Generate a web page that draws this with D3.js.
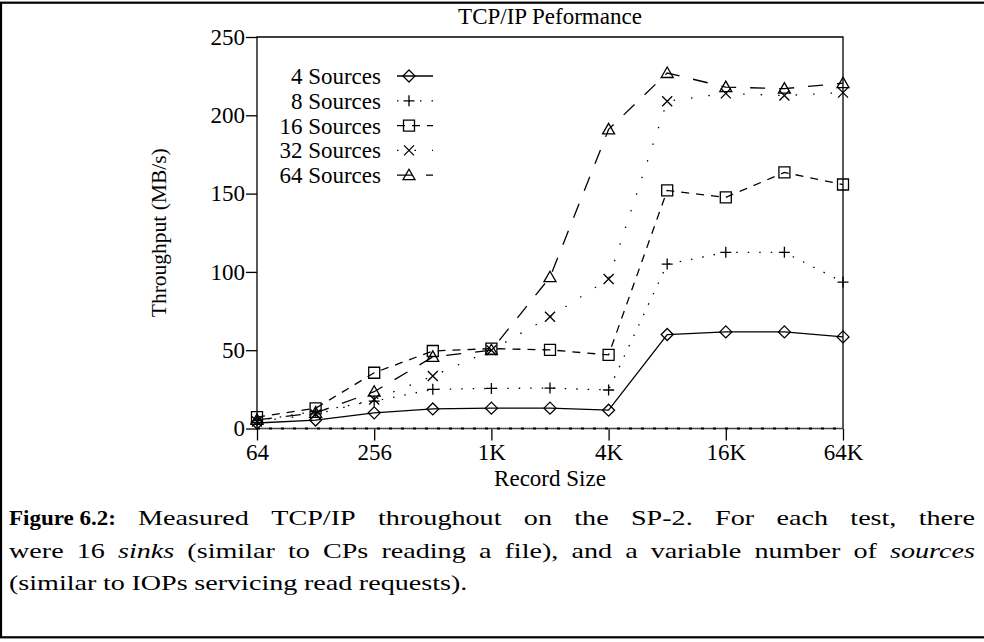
<!DOCTYPE html>
<html>
<head>
<meta charset="utf-8">
<script src="https://cdn.jsdelivr.net/npm/d3@7"></script>
<style>
  body { margin: 0; background: #fff; }
  svg { display: block; }
  text { font-family: "Liberation Serif", "Times New Roman", serif; fill: #000; }
</style>
</head>
<body>
<svg id="chart" width="984" height="642"></svg>
<script>
// record sizes (bytes) measured, and the labelled ticks
var recordSizes = [64, 128, 256, 512, 1024, 2048, 4096, 8192, 16384, 32768, 65536];
var xTicks = [64, 256, 1024, 4096, 16384, 65536];
var xTickLabels = ["64", "256", "1K", "4K", "16K", "64K"];
var yTicks = [0, 50, 100, 150, 200, 250];

// throughput in MB/s
var src4  = [3.5, 5.4, 10, 12.5, 13, 13, 11.7, 60, 61.7, 61.7, 58.5];
var src8  = [5, 11, 17.5, 25, 25.6, 25.8, 24.6, 105, 112.5, 112.5, 93.5];
var src16 = [7.3, 12.9, 35.6, 49.5, 51, 50.2, 47, 152, 147.6, 163.5, 155.8];
var src32 = [4.5, 9, 18.5, 33.5, 50, 71.4, 95.5, 209, 214, 212.6, 214.5];
var src64 = [5.5, 10, 23.5, 45.7, 50, 96.6, 191, 227, 218, 217, 220.5];

var seriesNames = ["4 Sources", "8 Sources", "16 Sources", "32 Sources", "64 Sources"];
var seriesValues = [src4, src8, src16, src32, src64];
var seriesDash = [null, "1.5,10", "8,7", "1.5,16", "15,14"];
var seriesSymbol = ["diamond", "plus", "square", "cross", "triangle"];

var svg = d3.select("#chart");

// page frame (right edge runs off the page)
svg.append("rect").attr("x", 1).attr("y", 2.7).attr("width", 1000).attr("height", 634.6)
  .attr("fill", "none").attr("stroke", "#000").attr("stroke-width", 2.2);

var plotL = 257, plotR = 843, plotT = 37, plotB = 428.5;
var x = d3.scaleLog().base(2).domain([64, 65536]).range([plotL, plotR]);
var y = d3.scaleLinear().domain([0, 250]).range([plotB, plotT]);

var fontSize = 23;

// axes
var gy = svg.append("g").attr("transform", "translate(" + plotL + ",0)")
  .call(d3.axisLeft(y).tickValues(yTicks).tickSize(11).tickPadding(1));
var gx = svg.append("g").attr("transform", "translate(0," + plotB + ")")
  .call(d3.axisBottom(x).tickValues(xTicks).tickSize(12).tickPadding(3)
    .tickFormat(function(d, i) { return xTickLabels[i]; }));
[gx, gy].forEach(function(g) {
  g.select(".domain").remove();
  g.selectAll("line").attr("stroke", "#000").attr("stroke-width", 1.3);
  g.selectAll("text").attr("font-size", fontSize).attr("font-family", "Liberation Serif").attr("fill", "#000");
});

// plot box
svg.append("path")
  .attr("d", "M" + plotL + "," + plotB + "V" + plotT + "H" + plotR + "V" + plotB)
  .attr("fill", "none").attr("stroke", "#000").attr("stroke-width", 1.3);
// zero line with its small tick pattern
svg.append("line").attr("x1", plotL).attr("x2", plotR).attr("y1", y(0)).attr("y2", y(0))
  .attr("stroke", "#444").attr("stroke-width", 1.3);
svg.append("line").attr("x1", plotL).attr("x2", plotR).attr("y1", y(0)).attr("y2", y(0))
  .attr("stroke", "#000").attr("stroke-width", 2.2).attr("stroke-dasharray", "3,9");

// title and axis labels
svg.append("text").attr("x", (plotL + plotR) / 2).attr("y", 24).attr("text-anchor", "middle")
  .attr("font-size", fontSize).text("TCP/IP Peformance");
svg.append("text").attr("x", (plotL + plotR) / 2).attr("y", 486).attr("text-anchor", "middle")
  .attr("font-size", fontSize).text("Record Size");
svg.append("text").attr("transform", "translate(166," + ((plotT + plotB) / 2) + ") rotate(-90)")
  .attr("text-anchor", "middle").attr("font-size", 21.5).text("Throughput (MB/s)");

function symbolPath(kind) {
  if (kind === "diamond") return "M0,-6L6,0L0,6L-6,0Z";
  if (kind === "plus") return "M-5.5,0H5.5M0,-5.5V5.5";
  if (kind === "square") return "M-5.5,-5.5H5.5V5.5H-5.5Z";
  if (kind === "cross") return "M-5,-5L5,5M-5,5L5,-5";
  return "M0,-6L6,4.5H-6Z";
}

var line = d3.line()
  .x(function(d, i) { return x(recordSizes[i]); })
  .y(function(d) { return y(d); });

seriesValues.forEach(function(vals, s) {
  svg.append("path").datum(vals).attr("d", line)
    .attr("fill", "none").attr("stroke", "#000").attr("stroke-width", 1.3)
    .attr("stroke-dasharray", seriesDash[s]);
  svg.append("g").selectAll("path").data(vals).enter().append("path")
    .attr("transform", function(d, i) { return "translate(" + x(recordSizes[i]) + "," + y(d) + ")"; })
    .attr("d", symbolPath(seriesSymbol[s]))
    .attr("fill", "none").attr("stroke", "#000").attr("stroke-width", 1.3);
});

// legend
var legend = svg.append("g");
seriesNames.forEach(function(name, s) {
  var cy = 76 + s * 24.8;
  legend.append("text").attr("x", 381).attr("y", cy + 8).attr("text-anchor", "end")
    .attr("font-size", fontSize).text(name);
  legend.append("line").attr("x1", 397).attr("x2", 433).attr("y1", cy).attr("y2", cy)
    .attr("stroke", "#000").attr("stroke-width", 1.3).attr("stroke-dasharray", seriesDash[s]);
  legend.append("path").attr("transform", "translate(409," + cy + ")")
    .attr("d", symbolPath(seriesSymbol[s]))
    .attr("fill", "none").attr("stroke", "#000").attr("stroke-width", 1.3);
});

// caption: words stretched (the original face is wider) and justified
var capSize = 21;
var capScale = 1.34;
function captionLine(words, x0, x1, baseline, justify) {
  var g = svg.append("g");
  var items = words.map(function(w) {
    var t = g.append("text").attr("font-size", capSize).text(w.t);
    if (w.i) t.attr("font-style", "italic");
    return { el: t, w: t.node().getComputedTextLength() * capScale };
  });
  var total = d3.sum(items, function(d) { return d.w; });
  var gap = justify ? (x1 - x0 - total) / (items.length - 1) : 6.5;
  var cx = x0;
  items.forEach(function(d) {
    d.el.attr("transform", "translate(" + cx + "," + baseline + ") scale(" + capScale + ",1)");
    cx += d.w + gap;
  });
}
function plain(s) { return s.split(" ").map(function(t) { return { t: t }; }); }

svg.append("text").attr("x", 9).attr("y", 525).attr("font-size", 22).attr("font-weight", "bold")
  .attr("textLength", 107).attr("lengthAdjust", "spacingAndGlyphs").text("Figure 6.2:");
captionLine(plain("Measured TCP/IP throughout on the SP-2. For each test, there"), 138, 975, 525, true);
captionLine(plain("were 16").concat([{ t: "sinks", i: true }])
  .concat(plain("(similar to CPs reading a file), and a variable number of"))
  .concat([{ t: "sources", i: true }]), 9, 975, 558, true);
captionLine(plain("(similar to IOPs servicing read requests)."), 9, 975, 590, false);
</script>
</body>
</html>
